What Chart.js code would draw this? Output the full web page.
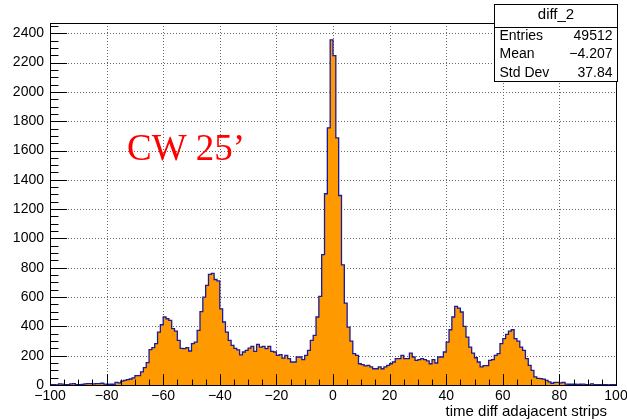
<!DOCTYPE html>
<html>
<head>
<meta charset="utf-8">
<script src="https://cdn.jsdelivr.net/npm/chart.js@4"></script>
<style>
  html, body { margin: 0; padding: 0; background: #fff; }
  #wrap { width: 627px; height: 420px; }
</style>
</head>
<body>
<div id="wrap"><canvas id="histChart" width="627" height="420"></canvas></div>
<script>
// diff_2 : 200 bins of width 1 between -100 and 100
const xMin = -100, xMax = 100, binWidth = 1;
const binCounts = [
  // -100 .. -81
  2, 3, 1, 8, 6, 2, 3, 7, 9, 3, 2, 4, 8, 9, 10, 8, 9, 10, 12, 6,
  // -80 .. -61
  5, 5, 5, 18, 14, 27, 32, 36, 41, 48, 64, 64, 89, 118, 152, 241, 255, 282, 361, 411,
  // -60 .. -41
  464, 452, 441, 384, 368, 305, 250, 248, 255, 232, 282, 293, 373, 500, 600, 680, 755, 762, 720, 710,
  // -40 .. -21
  520, 430, 361, 305, 270, 250, 240, 205, 225, 236, 252, 264, 230, 277, 259, 264, 248, 264, 230, 225,
  // -20 .. -1
  202, 207, 184, 202, 180, 157, 157, 191, 191, 173, 202, 236, 305, 339, 464, 605, 889, 1305, 1755, 2355,
  // 0 .. 19
  2248, 1686, 1293, 820, 559, 395, 300, 214, 202, 145, 139, 130, 134, 123, 111, 111, 123, 111, 123, 134,
  // 20 .. 39
  145, 157, 180, 180, 202, 180, 180, 218, 191, 168, 173, 180, 173, 164, 145, 173, 150, 191, 191, 225,
  // 40 .. 59
  293, 377, 464, 536, 525, 498, 400, 327, 259, 218, 186, 157, 123, 132, 132, 168, 173, 202, 214, 282,
  // 60 .. 79
  316, 345, 368, 377, 316, 300, 259, 236, 180, 134, 100, 55, 45, 43, 40, 32, 22, 12, 18, 18,
  // 80 .. 99
  14, 18, 6, 5, 5, 5, 4, 5, 6, 3, 0, 8, 2, 3, 2, 3, 2, 1, 3, 2
];
const yMax = 2470;
const xTicks = [-100, -80, -60, -40, -20, 0, 20, 40, 60, 80, 100];
const xMinorStep = 5;
const yTicks = [0, 200, 400, 600, 800, 1000, 1200, 1400, 1600, 1800, 2000, 2200, 2400];
const yMinorStep = 50;
const xTitle = 'time diff adajacent strips';
const statsName = 'diff_2';
const statsLabels = ['Entries', 'Mean', 'Std Dev'];
const statsValues = ['49512', '\u22124.207', '37.84'];
const noteText = 'CW 25\u2019';

function fmt(v) {
  return v < 0 ? '\u2212' + Math.abs(v) : String(v);
}

// ROOT like frame: dotted grid under the histogram, ticks / labels / stats on top
const rootFrame = {
  id: 'rootFrame',
  beforeDatasetsDraw(chart) {
    const { ctx, chartArea: a, scales: { x, y } } = chart;
    ctx.save();
    ctx.strokeStyle = '#666';
    ctx.lineWidth = 1;
    ctx.setLineDash([1, 2]);
    xTicks.forEach(v => {
      const px = Math.round(x.getPixelForValue(v)) + 0.5;
      ctx.beginPath(); ctx.moveTo(px, a.top); ctx.lineTo(px, a.bottom); ctx.stroke();
    });
    yTicks.forEach(v => {
      const py = Math.round(y.getPixelForValue(v)) + 0.5;
      ctx.beginPath(); ctx.moveTo(a.left, py); ctx.lineTo(a.right, py); ctx.stroke();
    });
    ctx.restore();
  },
  afterDatasetsDraw(chart) {
    const { ctx, chartArea: a, scales: { x, y } } = chart;
    const w = a.right - a.left, h = a.bottom - a.top;
    ctx.save();
    ctx.strokeStyle = '#000';
    ctx.lineWidth = 1;
    // x ticks (inside, pointing up)
    for (let v = xMin; v <= xMax; v += xMinorStep) {
      const px = Math.round(x.getPixelForValue(v)) + 0.5;
      const len = (v % 20 === 0) ? 0.03 * h : 0.015 * h;
      ctx.beginPath(); ctx.moveTo(px, a.bottom); ctx.lineTo(px, a.bottom - len); ctx.stroke();
    }
    // y ticks (inside, pointing right)
    for (let v = 0; v <= yMax; v += yMinorStep) {
      const py = Math.round(y.getPixelForValue(v)) + 0.5;
      const len = (v % 200 === 0) ? 0.03 * w : 0.015 * w;
      ctx.beginPath(); ctx.moveTo(a.left, py); ctx.lineTo(a.left + len, py); ctx.stroke();
    }
    // frame
    ctx.strokeRect(Math.round(a.left) + 0.5, Math.round(a.top) + 0.5,
      Math.round(w), Math.round(h));

    // labels
    ctx.fillStyle = '#000';
    ctx.font = '14px "Liberation Sans", Arial, sans-serif';
    ctx.textAlign = 'center';
    ctx.textBaseline = 'top';
    xTicks.forEach(v => ctx.fillText(fmt(v), x.getPixelForValue(v), a.bottom + 4));
    ctx.textAlign = 'right';
    ctx.textBaseline = 'middle';
    yTicks.forEach(v => ctx.fillText(fmt(v), a.left - 6, y.getPixelForValue(v)));

    ctx.font = '15px "Liberation Sans", Arial, sans-serif';
    ctx.textAlign = 'right';
    ctx.textBaseline = 'alphabetic';
    ctx.fillText(xTitle, 607, 416);

    // CW note
    ctx.fillStyle = '#ff0000';
    ctx.font = '37px "Liberation Serif", "Times New Roman", serif';
    ctx.textAlign = 'left';
    ctx.fillText(noteText, 127, 160);

    // stats box
    const bx = 494.5, by = 4.5, bw = 123, bh = 77;
    ctx.fillStyle = '#fff';
    ctx.fillRect(bx, by, bw, bh);
    ctx.strokeStyle = '#000';
    ctx.strokeRect(bx, by, bw, bh);
    ctx.beginPath(); ctx.moveTo(bx, 27.5); ctx.lineTo(bx + bw, 27.5); ctx.stroke();
    ctx.fillStyle = '#000';
    ctx.font = '15px "Liberation Sans", Arial, sans-serif';
    ctx.textAlign = 'center';
    ctx.textBaseline = 'middle';
    ctx.fillText(statsName, bx + bw / 2, 15);
    ctx.font = '14px "Liberation Sans", Arial, sans-serif';
    statsLabels.forEach((lab, i) => {
      const ty = 36 + i * 18.5;
      ctx.textAlign = 'left';
      ctx.fillText(lab, bx + 5, ty);
      ctx.textAlign = 'right';
      ctx.fillText(statsValues[i], bx + bw - 5, ty);
    });
    ctx.restore();
  }
};

const points = binCounts.map((c, i) => ({ x: xMin + i * binWidth, y: c }));
points.push({ x: xMax, y: binCounts[binCounts.length - 1] });

const ctx = document.getElementById('histChart').getContext('2d');
new Chart(ctx, {
  type: 'line',
  data: {
    datasets: [{
      data: points,
      stepped: 'before',
      fill: 'origin',
      backgroundColor: '#ff9900',
      borderColor: '#1a1a9a',
      borderWidth: 1.3,
      pointRadius: 0,
      tension: 0
    }]
  },
  options: {
    responsive: false,
    animation: false,
    layout: { padding: { left: 50, right: 11, top: 23, bottom: 35 } },
    plugins: { legend: { display: false }, tooltip: { enabled: false } },
    scales: {
      x: { type: 'linear', min: xMin, max: xMax, display: false },
      y: { type: 'linear', min: 0, max: yMax, display: false }
    }
  },
  plugins: [rootFrame]
});
</script>
</body>
</html>
